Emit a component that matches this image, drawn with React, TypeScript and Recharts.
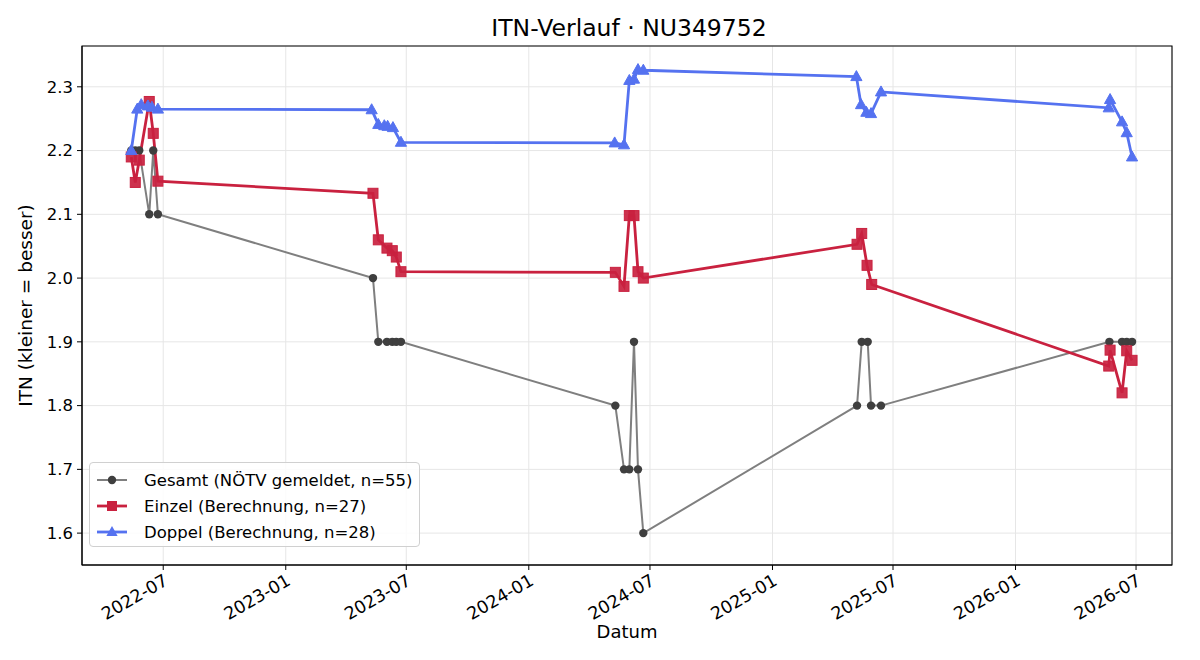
import { LineChart, Line, XAxis, YAxis, CartesianGrid, ReferenceArea } from 'recharts'

const FONT = '"DejaVu Sans", sans-serif'

const gesamtDates = [
  '2022-05-14', '2022-05-20', '2022-05-26', '2022-06-10', '2022-06-16', '2022-06-23',
  '2023-05-12', '2023-05-20', '2023-06-02', '2023-06-10', '2023-06-16', '2023-06-23',
  '2024-05-10', '2024-05-23', '2024-05-31', '2024-06-07', '2024-06-13', '2024-06-21',
  '2025-05-08', '2025-05-15', '2025-05-24', '2025-05-29', '2025-06-13',
  '2026-05-22', '2026-06-10', '2026-06-17', '2026-06-25',
]
const gesamtValues = [
  2.2, 2.2, 2.2, 2.1, 2.2, 2.1,
  2.0, 1.9, 1.9, 1.9, 1.9, 1.9,
  1.8, 1.7, 1.7, 1.9, 1.7, 1.6,
  1.8, 1.9, 1.9, 1.8, 1.8,
  1.9, 1.9, 1.9, 1.9,
]

const einzelDates = [
  '2022-05-14', '2022-05-20', '2022-05-26', '2022-06-10', '2022-06-16', '2022-06-23',
  '2023-05-12', '2023-05-20', '2023-06-02', '2023-06-10', '2023-06-16', '2023-06-23',
  '2024-05-10', '2024-05-23', '2024-05-31', '2024-06-07', '2024-06-13', '2024-06-21',
  '2025-05-08', '2025-05-15', '2025-05-23', '2025-05-30',
  '2026-05-21', '2026-05-23', '2026-06-10', '2026-06-17', '2026-06-25',
]
const einzelValues = [
  2.19, 2.15, 2.185, 2.277, 2.227, 2.152,
  2.133, 2.06, 2.047, 2.043, 2.033, 2.01,
  2.009, 1.987, 2.098, 2.098, 2.01, 2.0,
  2.053, 2.07, 2.02, 1.99,
  1.862, 1.887, 1.82, 1.886, 1.871,
]

const doppelDates = [
  '2022-05-14', '2022-05-23', '2022-05-29', '2022-06-08', '2022-06-14', '2022-06-23',
  '2023-05-10', '2023-05-20', '2023-05-29', '2023-06-03', '2023-06-11', '2023-06-23',
  '2024-05-09', '2024-05-23', '2024-05-31', '2024-06-07', '2024-06-13', '2024-06-21',
  '2025-05-07', '2025-05-14', '2025-05-22', '2025-05-29', '2025-06-13',
  '2026-05-21', '2026-05-23', '2026-06-10', '2026-06-17', '2026-06-25',
]
const doppelValues = [
  2.2, 2.265, 2.272, 2.27, 2.268, 2.265,
  2.264, 2.241, 2.239, 2.238, 2.236, 2.213,
  2.212, 2.209, 2.31, 2.312, 2.327, 2.326,
  2.316, 2.272, 2.26, 2.258, 2.292,
  2.267, 2.28, 2.245, 2.228, 2.19,
]

const xTickDates = [
  '2022-07-01', '2023-01-01', '2023-07-01', '2024-01-01', '2024-07-01',
  '2025-01-01', '2025-07-01', '2026-01-01', '2026-07-01',
]
const yTicks = [1.6, 1.7, 1.8, 1.9, 2.0, 2.1, 2.2, 2.3]

const ts = (d: string) => Date.parse(d + 'T00:00:00Z')
const toRows = (dates: string[], values: number[]) =>
  dates.map((d, i) => ({ t: ts(d), v: values[i] }))

const gesamt = toRows(gesamtDates, gesamtValues)
const einzel = toRows(einzelDates, einzelValues)
const doppel = toRows(doppelDates, doppelValues)

const xMin = ts('2022-03-01')
const xMax = ts('2026-08-24')
const yMin = 1.55
const yMax = 2.364

const GREY = '#7f7f7f'
const GREY_DOT = '#3f3f3f'
const RED = '#c9213f'
const BLUE = '#5572f0'

const fmtMonth = (v: number) => {
  const d = new Date(v)
  return `${d.getUTCFullYear()}-${String(d.getUTCMonth() + 1).padStart(2, '0')}`
}

const circleDot = (p: any) => (
  <circle key={`g${p.index}`} cx={p.cx} cy={p.cy} r={4.2} fill={GREY_DOT} />
)
const squareDot = (p: any) => (
  <rect key={`e${p.index}`} x={p.cx - 5} y={p.cy - 5} width={10} height={10}
    fill={RED} fillOpacity={0.92} stroke={RED} strokeWidth={1} />
)
const triDot = (p: any) => (
  <path key={`d${p.index}`} d={`M${p.cx},${p.cy - 6}L${p.cx + 5.6},${p.cy + 4}L${p.cx - 5.6},${p.cy + 4}Z`}
    fill={BLUE} stroke={BLUE} strokeWidth={1} />
)

const XTick = ({ x, y, payload }: any) => (
  <g transform={`translate(${x + 6},${y + 9})`}>
    <text x={0} y={0} textAnchor="end" transform="rotate(-30)" fontSize={17.5}
      fontFamily={FONT} fill="#000">
      {fmtMonth(payload.value)}
    </text>
  </g>
)

function LegendIcon({ kind, color }: { kind: string; color: string }) {
  return (
    <svg width={32} height={14} style={{ display: 'block' }}>
      <line x1={1} y1={7} x2={31} y2={7} stroke={color} strokeWidth={kind === 'c' ? 2 : 2.8} />
      {kind === 'c' && <circle cx={16} cy={7} r={4.2} fill={GREY_DOT} />}
      {kind === 's' && <rect x={11} y={2} width={10} height={10} fill={RED} />}
      {kind === 't' && <path d="M16,1L21.6,11L10.4,11Z" fill={BLUE} />}
    </svg>
  )
}

const legendItems = [
  { kind: 'c', color: GREY, label: 'Gesamt (NÖTV gemeldet, n=55)' },
  { kind: 's', color: RED, label: 'Einzel (Berechnung, n=27)' },
  { kind: 't', color: BLUE, label: 'Doppel (Berechnung, n=28)' },
]

export default function App() {
  return (
    <div style={{ position: 'absolute', left: 0, top: 0, width: 1200, height: 660, background: '#fff', fontFamily: FONT }}>
      <LineChart width={1200} height={660} margin={{ top: 46, right: 28, bottom: 0, left: 0 }}>
        <CartesianGrid stroke="#e6e6e6" strokeWidth={1} />
        <ReferenceArea x1={xMin} x2={xMax} y1={yMin} y2={yMax} fill="none" stroke="#000" strokeWidth={1.1} />
        <XAxis
          type="number"
          dataKey="t"
          domain={[xMin, xMax]}
          ticks={xTickDates.map(ts)}
          allowDataOverflow
          height={95}
          tick={<XTick />}
          tickSize={5}
          tickMargin={5}
          stroke="#000"
          interval={0}
          label={{ value: 'Datum', position: 'insideBottom', offset: 22, style: { fontSize: 18, fill: '#000', fontFamily: FONT } }}
        />
        <YAxis
          type="number"
          domain={[yMin, yMax]}
          ticks={yTicks}
          allowDataOverflow
          width={82}
          tickFormatter={(v: number) => v.toFixed(1)}
          tick={{ fontSize: 16.5, fill: '#000', fontFamily: FONT }}
          tickSize={5}
          tickMargin={4}
          stroke="#000"
          interval={0}
          label={{ value: 'ITN  (kleiner = besser)', angle: -90, position: 'insideLeft', offset: 25, style: { textAnchor: 'middle', fontSize: 18.5, fill: '#000', fontFamily: FONT, whiteSpace: 'pre' } }}
        />
        <Line data={gesamt} dataKey="v" stroke={GREY} strokeWidth={2} dot={circleDot} activeDot={false} isAnimationActive={false} />
        <Line data={einzel} dataKey="v" stroke={RED} strokeWidth={2.8} dot={squareDot} activeDot={false} isAnimationActive={false} />
        <Line data={doppel} dataKey="v" stroke={BLUE} strokeWidth={2.8} dot={triDot} activeDot={false} isAnimationActive={false} />
      </LineChart>
      <div style={{ position: 'absolute', left: 82, width: 1094, top: 13, textAlign: 'center', fontSize: 23.5, lineHeight: '30px', color: '#000' }}>
        ITN-Verlauf · NU349752
      </div>
      <div style={{
        position: 'absolute', left: 89, top: 462, width: 331, height: 85, boxSizing: 'border-box',
        border: '1px solid #d0d0d0', borderRadius: 4, background: 'rgba(255,255,255,0.85)', padding: '4px 0 0 6px',
      }}>
        {legendItems.map((it) => (
          <div key={it.label} style={{ display: 'flex', alignItems: 'center', height: 26, fontSize: 16.5, color: '#000' }}>
            <LegendIcon kind={it.kind} color={it.color} />
            <span style={{ marginLeft: 16, whiteSpace: 'nowrap' }}>{it.label}</span>
          </div>
        ))}
      </div>
    </div>
  )
}
